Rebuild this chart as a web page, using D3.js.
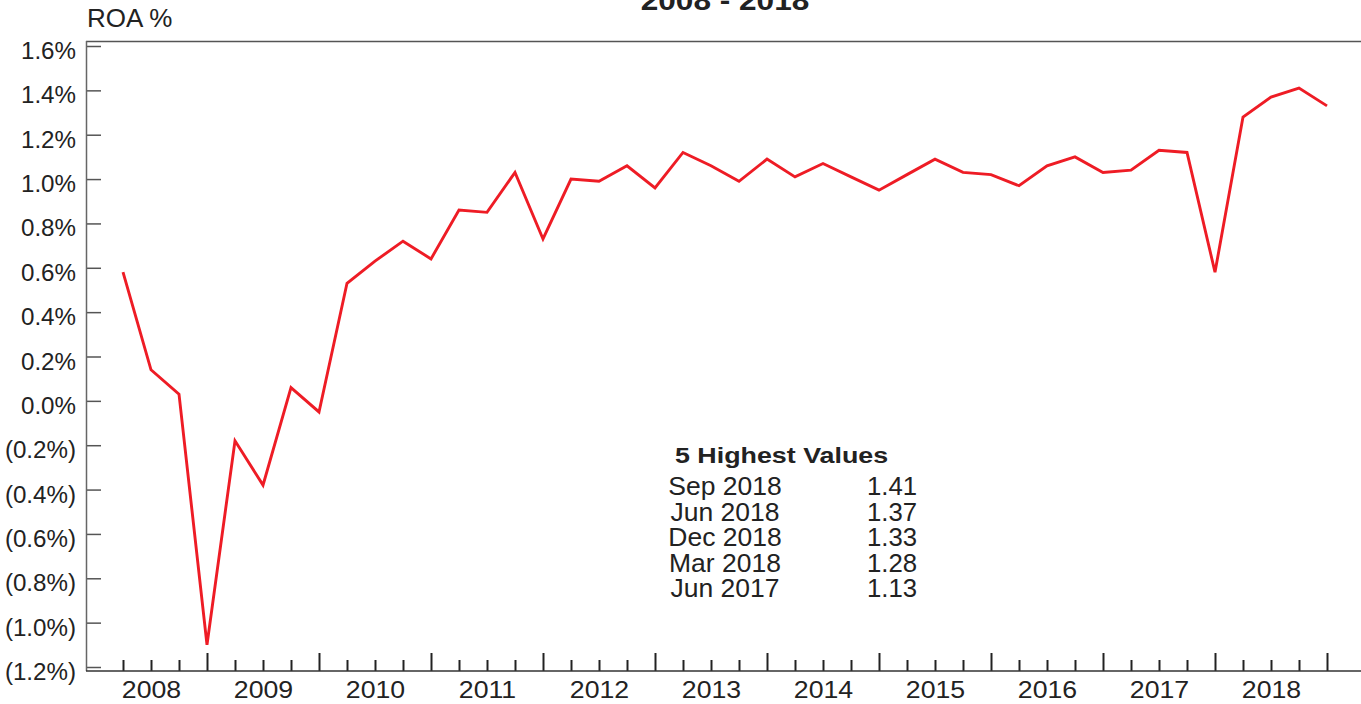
<!DOCTYPE html>
<html>
<head>
<meta charset="utf-8">
<script src="https://cdn.jsdelivr.net/npm/d3@7"></script>
<style>
  html, body { margin: 0; padding: 0; background: #fff; }
  svg { display: block; font-family: "Liberation Sans", Arial, Helvetica, sans-serif; }
</style>
</head>
<body>
<svg id="chart" width="1361" height="704"></svg>
<script>
// ---- data ----
const quarters = ["Mar 2008","Jun 2008","Sep 2008","Dec 2008",
  "Mar 2009","Jun 2009","Sep 2009","Dec 2009",
  "Mar 2010","Jun 2010","Sep 2010","Dec 2010",
  "Mar 2011","Jun 2011","Sep 2011","Dec 2011",
  "Mar 2012","Jun 2012","Sep 2012","Dec 2012",
  "Mar 2013","Jun 2013","Sep 2013","Dec 2013",
  "Mar 2014","Jun 2014","Sep 2014","Dec 2014",
  "Mar 2015","Jun 2015","Sep 2015","Dec 2015",
  "Mar 2016","Jun 2016","Sep 2016","Dec 2016",
  "Mar 2017","Jun 2017","Sep 2017","Dec 2017",
  "Mar 2018","Jun 2018","Sep 2018","Dec 2018"];
const roa = [0.58, 0.14, 0.03, -1.10,
  -0.18, -0.38, 0.06, -0.05,
  0.53, 0.63, 0.72, 0.64,
  0.86, 0.85, 1.03, 0.73,
  1.00, 0.99, 1.06, 0.96,
  1.12, 1.06, 0.99, 1.09,
  1.01, 1.07, 1.01, 0.95,
  1.02, 1.09, 1.03, 1.02,
  0.97, 1.06, 1.10, 1.03,
  1.04, 1.13, 1.12, 0.58,
  1.28, 1.37, 1.41, 1.33];
const years = ["2008","2009","2010","2011","2012","2013","2014","2015","2016","2017","2018"];
const yTicks = [-1.2, -1.0, -0.8, -0.6, -0.4, -0.2, 0.0, 0.2, 0.4, 0.6, 0.8, 1.0, 1.2, 1.4, 1.6];
const titleText = "2008 - 2018";
const yTitle = "ROA %";
const legendTitle = "5 Highest Values";
const topLabels = ["Sep 2018","Jun 2018","Dec 2018","Mar 2018","Jun 2017"];
const topValues = ["1.41","1.37","1.33","1.28","1.13"];

// ---- layout ----
const svg = d3.select("#chart");
const plotLeft = 86, plotRight = 1361, plotTop = 41, plotBottom = 671;

const x = d3.scaleLinear().domain([0, quarters.length - 1]).range([123, 1327]);
const y = d3.scaleLinear().domain([-1.2, 1.6]).range([667, 46]);

// top frame line
svg.append("line")
  .attr("x1", plotLeft).attr("x2", plotRight)
  .attr("y1", plotTop + 0.5).attr("y2", plotTop + 0.5)
  .attr("stroke", "#555").attr("stroke-width", 1.3);

// Y axis
const fmt = v => {
  const s = Math.abs(v).toFixed(1) + "%";
  return v < -1e-9 ? "(" + s + ")" : s;
};
const yAxis = d3.axisLeft(y).tickValues(yTicks).tickFormat(fmt)
  .tickSizeInner(-15).tickSizeOuter(0).tickPadding(10);
const gy = svg.append("g").attr("transform", `translate(${plotLeft},0)`).call(yAxis);
gy.select(".domain").remove();
gy.selectAll(".tick line").attr("stroke", "#555").attr("stroke-width", 1.5);
const ySx = 1.05;
gy.selectAll(".tick text")
  .attr("font-size", 23).attr("fill", "#222")
  .attr("font-family", "Liberation Sans, Arial, sans-serif")
  .attr("dy", null).attr("y", 12.5)
  .attr("x", -10 / ySx)
  .attr("transform", `scale(${ySx},1)`);
svg.append("line")
  .attr("x1", plotLeft + 0.5).attr("x2", plotLeft + 0.5)
  .attr("y1", plotTop).attr("y2", plotBottom)
  .attr("stroke", "#666").attr("stroke-width", 1.5);

// X axis
const xAxis = d3.axisBottom(x).tickValues(d3.range(quarters.length))
  .tickFormat(i => (i % 4 === 1 ? years[(i - 1) / 4] : ""))
  .tickSizeInner(-11).tickSizeOuter(0).tickPadding(0);
const gx = svg.append("g").attr("transform", `translate(0,${plotBottom})`).call(xAxis);
gx.select(".domain").remove();
gx.selectAll(".tick line")
  .attr("stroke", "#222").attr("stroke-width", 2)
  .attr("y2", i => (i % 4 === 3 ? -18 : -11));
const xSx = 1.16;
gx.selectAll(".tick text")
  .attr("font-size", 23).attr("fill", "#222")
  .attr("font-family", "Liberation Sans, Arial, sans-serif")
  .attr("dy", null).attr("y", 27)
  .attr("text-anchor", "middle")
  .attr("transform", `scale(${xSx},1)`);
svg.append("line")
  .attr("x1", plotLeft).attr("x2", plotRight)
  .attr("y1", plotBottom).attr("y2", plotBottom)
  .attr("stroke", "#333").attr("stroke-width", 1.5);

// Line
const line = d3.line().x((d, i) => x(i)).y(d => y(d));
svg.append("path").datum(roa)
  .attr("d", line)
  .attr("fill", "none")
  .attr("stroke", "#ee1c25")
  .attr("stroke-width", 2.9)
  .attr("stroke-linejoin", "miter");

// Titles
svg.append("text")
  .attr("transform", `translate(725,10) scale(1.17,1)`)
  .attr("text-anchor", "middle")
  .attr("font-size", 27).attr("font-weight", "bold").attr("fill", "#222")
  .text(titleText);
svg.append("text")
  .attr("x", 87).attr("y", 27)
  .attr("font-size", 26).attr("fill", "#222")
  .text(yTitle);

// Legend box: 5 highest values
svg.append("text")
  .attr("transform", `translate(675,463) scale(1.22,1)`)
  .attr("font-size", 22).attr("font-weight", "bold").attr("fill", "#222")
  .text(legendTitle);
const rowY = i => 495 + i * 25.5;
topLabels.forEach((lab, i) => {
  svg.append("text")
    .attr("transform", `translate(725,${rowY(i)}) scale(1.06,1)`)
    .attr("text-anchor", "middle")
    .attr("font-size", 25).attr("fill", "#222")
    .text(lab);
  svg.append("text")
    .attr("transform", `translate(917,${rowY(i)}) scale(1.03,1)`)
    .attr("text-anchor", "end")
    .attr("font-size", 25).attr("fill", "#222")
    .text(topValues[i]);
});
</script>
</body>
</html>
